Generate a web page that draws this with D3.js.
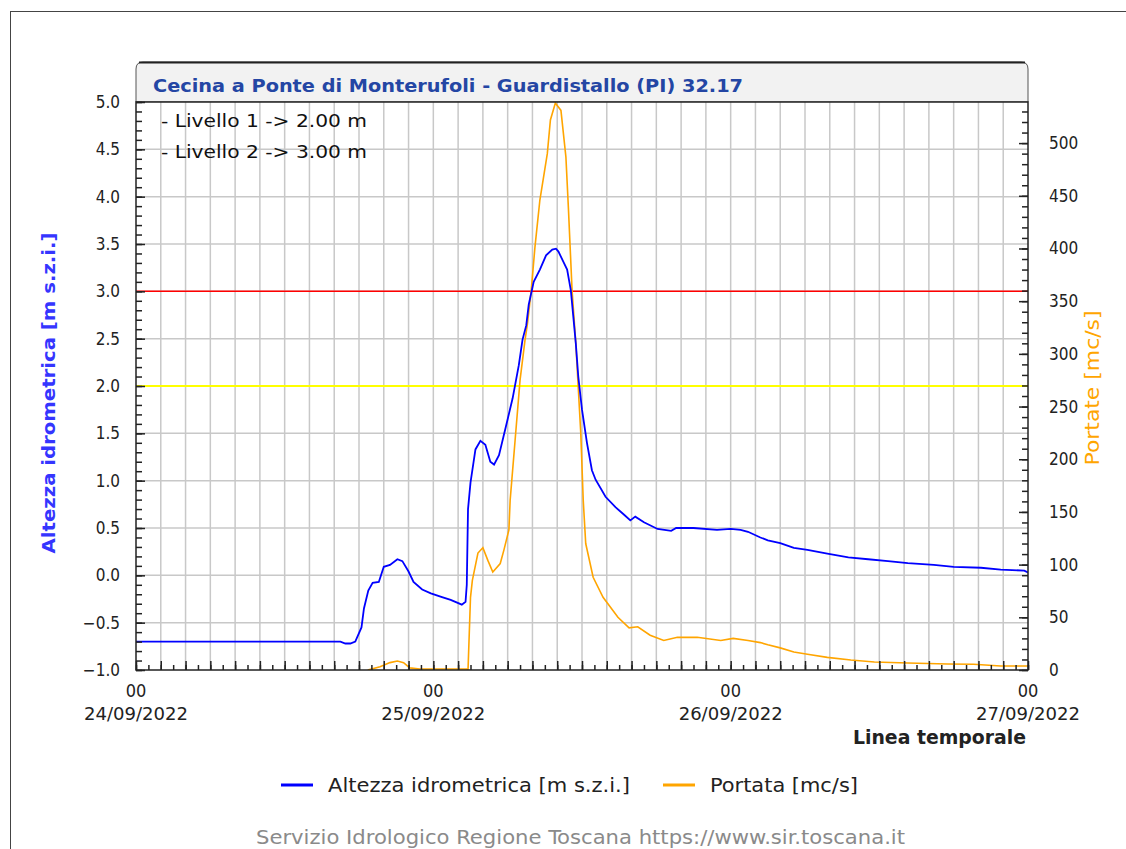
<!DOCTYPE html>
<html><head><meta charset="utf-8">
<script src="https://cdn.jsdelivr.net/npm/d3@7"></script>
<style>html,body{margin:0;padding:0;background:#fff;overflow:hidden}svg{display:block}</style>
</head><body>
<svg id="chart" width="1126" height="849"></svg>
<script>
// ---- DATA ----
const startDate = new Date(2022, 8, 24, 0, 0);
const xTickDays = ["24/09/2022", "25/09/2022", "26/09/2022", "27/09/2022"];
const leftTicks = [-1.0, -0.5, 0.0, 0.5, 1.0, 1.5, 2.0, 2.5, 3.0, 3.5, 4.0, 4.5, 5.0];
const rightTicks = [0, 50, 100, 150, 200, 250, 300, 350, 400, 450, 500];
const thresholds = [2.0, 3.0];
const thresholdLabels = ["- Livello 1 -> 2.00 m", "- Livello 2 -> 3.00 m"];

// hours since 24/09/2022 00:00
const levelHours = [0, 16.5, 16.9, 17.3, 17.7, 18.2, 18.4, 18.75, 19.1, 19.6, 20.0, 20.5, 21.1, 21.5, 22.0, 22.4, 23.1, 23.8, 24.7, 25.4, 26.3, 26.6, 26.7, 26.8, 27.0, 27.4, 27.8, 28.2, 28.6, 28.9, 29.3, 29.8, 30.4, 30.9, 31.2, 31.5, 31.7, 32.1, 32.6, 33.1, 33.6, 33.9, 34.1, 34.5, 34.8, 35.1, 35.3, 35.5, 35.7, 36.0, 36.4, 36.8, 37.1, 37.9, 38.7, 39.4, 39.9, 40.3, 41.0, 42.1, 43.2, 43.6, 45.0, 46.9, 48.0, 48.8, 49.4, 50.4, 51.0, 52.0, 53.1, 54.2, 55.8, 57.5, 59.1, 60.7, 62.3, 64.4, 66.0, 68.2, 69.8, 71.7, 72.0];
const levelValues = [-0.70, -0.70, -0.72, -0.72, -0.70, -0.55, -0.35, -0.16, -0.08, -0.07, 0.09, 0.11, 0.17, 0.15, 0.04, -0.07, -0.15, -0.19, -0.23, -0.26, -0.31, -0.28, -0.10, 0.70, 0.98, 1.33, 1.42, 1.38, 1.20, 1.17, 1.27, 1.54, 1.87, 2.22, 2.49, 2.64, 2.86, 3.10, 3.23, 3.38, 3.44, 3.45, 3.42, 3.31, 3.23, 3.01, 2.73, 2.45, 2.10, 1.75, 1.40, 1.11, 1.01, 0.83, 0.72, 0.64, 0.58, 0.62, 0.56, 0.49, 0.47, 0.50, 0.50, 0.48, 0.49, 0.48, 0.46, 0.40, 0.37, 0.34, 0.29, 0.27, 0.23, 0.19, 0.17, 0.15, 0.13, 0.11, 0.09, 0.08, 0.06, 0.05, 0.03];

const flowHours = [18.7, 19.7, 20.5, 21.1, 21.6, 22.1, 22.9, 25.5, 26.7, 26.8, 27.0, 27.15, 27.6, 28.0, 28.4, 28.8, 29.4, 29.7, 30.1, 30.2, 30.6, 31.0, 31.4, 31.6, 31.9, 32.2, 32.6, 33.2, 33.45, 33.85, 34.3, 34.7, 34.9, 35.2, 35.5, 35.9, 36.1, 36.3, 36.9, 37.7, 38.9, 39.8, 40.5, 41.5, 42.6, 43.7, 45.3, 47.2, 48.2, 49.4, 50.4, 51.0, 52.0, 53.1, 54.2, 55.8, 57.7, 59.6, 62.3, 65.5, 67.6, 69.8, 72.0];
const flowValues = [0, 3, 7, 8.5, 7, 2, 1, 1, 1, 0, 69, 85, 111, 116, 104, 93, 101, 114, 133, 161, 218, 275, 313, 329, 360, 401, 446, 490, 522, 538, 531, 487, 439, 360, 310, 225, 161, 120, 88, 69, 50, 40, 41, 33, 28, 31, 31, 28, 30, 28, 26, 24, 21, 17, 15, 12, 9.5, 7.6, 6.6, 5.7, 5.5, 3.8, 3.8];

const titleText = "Cecina a Ponte di Monterufoli - Guardistallo (PI) 32.17";
const leftLabel = "Altezza idrometrica [m s.z.i.]";
const rightLabel = "Portate [mc/s]";
const xLabel = "Linea temporale";
const legendLabels = ["Altezza idrometrica [m s.z.i.]", "Portata [mc/s]"];
const footer = "Servizio Idrologico Regione Toscana https://www.sir.toscana.it";

// ---- LAYOUT ----
const L = 136, R = 1028, T = 102, B = 670;
const FONT = "'DejaVu Sans', sans-serif";
const FONTC = "'DejaVu Sans Condensed', 'DejaVu Sans', sans-serif";
const svg = d3.select("#chart");

const hourToDate = h => new Date(startDate.getTime() + h * 3600000);
const x = d3.scaleTime().domain([startDate, hourToDate(72)]).range([L, R]);
const y = d3.scaleLinear().domain([-1, 5]).range([B, T]);
const y2 = d3.scaleLinear().domain([0, 539]).range([B, T]);

// outer frame
svg.append("rect").attr("x", 10.5).attr("y", 11.5).attr("width", 1200).attr("height", 900)
  .attr("fill", "none").attr("stroke", "#444").attr("stroke-width", 1);

// title box
const rr = 7;
svg.append("path")
  .attr("d", `M${L},${T} L${L},${62 + rr} Q${L},62 ${L + rr},62 L${R - rr},62 Q${R},62 ${R},${62 + rr} L${R},${T} Z`)
  .attr("fill", "#f2f2f2").attr("stroke", "#555").attr("stroke-width", 1);
svg.append("line").attr("x1", L + 3).attr("x2", R - 3).attr("y1", 62.5).attr("y2", 62.5)
  .attr("stroke", "#222").attr("stroke-width", 2);
svg.append("text").attr("x", 153).attr("y", 92).text(titleText)
  .attr("font-family", FONTC).attr("font-weight", "bold")
  .attr("font-size", 18).attr("fill", "#2446a4")
  .attr("textLength", 590).attr("lengthAdjust", "spacingAndGlyphs");

// plot background
svg.append("rect").attr("x", L).attr("y", T).attr("width", R - L).attr("height", B - T).attr("fill", "#fff");

// gridlines
const gridHours = d3.range(2, 72, 2);
svg.append("g").selectAll("line").data(gridHours).join("line")
  .attr("x1", d => x(hourToDate(d))).attr("x2", d => x(hourToDate(d)))
  .attr("y1", T).attr("y2", B).attr("stroke", "#c8c8c8").attr("stroke-width", 1.5);
svg.append("g").selectAll("line").data(leftTicks.slice(1, -1)).join("line")
  .attr("x1", L).attr("x2", R).attr("y1", d => y(d)).attr("y2", d => y(d))
  .attr("stroke", "#c8c8c8").attr("stroke-width", 1.5);

// threshold lines
svg.append("line").attr("x1", L).attr("x2", R).attr("y1", y(thresholds[0])).attr("y2", y(thresholds[0]))
  .attr("stroke", "#ffff00").attr("stroke-width", 2);
svg.append("line").attr("x1", L).attr("x2", R).attr("y1", y(thresholds[1])).attr("y2", y(thresholds[1]))
  .attr("stroke", "#ff0000").attr("stroke-width", 1.5);

// threshold text
thresholdLabels.forEach((t, i) => {
  svg.append("text").attr("x", 161).attr("y", 127 + i * 31).text(t)
    .attr("font-family", FONTC).attr("font-size", 18).attr("fill", "#111")
    .attr("textLength", 206).attr("lengthAdjust", "spacingAndGlyphs");
});

// clip
svg.append("defs").append("clipPath").attr("id", "clip").append("rect")
  .attr("x", L).attr("y", T - 2).attr("width", R - L).attr("height", B - T + 2);

const levelData = levelHours.map((h, i) => [hourToDate(h), levelValues[i]]);
const flowData = flowHours.map((h, i) => [hourToDate(h), flowValues[i]]);

svg.append("path").datum(flowData).attr("clip-path", "url(#clip)")
  .attr("d", d3.line().x(d => x(d[0])).y(d => y2(d[1])))
  .attr("fill", "none").attr("stroke", "#ffa500").attr("stroke-width", 1.6);
svg.append("path").datum(levelData).attr("clip-path", "url(#clip)")
  .attr("d", d3.line().x(d => x(d[0])).y(d => y(d[1])))
  .attr("fill", "none").attr("stroke", "#0000ff").attr("stroke-width", 1.8);

// frame of plot
svg.append("rect").attr("x", L).attr("y", T).attr("width", R - L).attr("height", B - T)
  .attr("fill", "none").attr("stroke", "#222").attr("stroke-width", 1.5);

// ticks (inside)
const minorLeft = d3.range(-1, 5.001, 0.1).map(v => +v.toFixed(1));
svg.append("g").attr("transform", `translate(${L},0)`)
  .call(d3.axisLeft(y).tickValues(minorLeft).tickSize(-6).tickFormat(""))
  .call(g => g.select(".domain").remove())
  .call(g => g.selectAll("line").attr("stroke", "#222").attr("stroke-width", 1.5));
svg.append("g").attr("transform", `translate(${L},0)`)
  .call(d3.axisLeft(y).tickValues(leftTicks).tickSize(-9).tickPadding(16).tickFormat(d3.format(".1f")))
  .call(g => g.select(".domain").remove())
  .call(g => g.selectAll("line").attr("stroke", "#222").attr("stroke-width", 1.5))
  .call(g => g.selectAll("text").attr("font-family", FONTC).attr("font-size", 17).attr("fill", "#222"));

const minorRight = d3.range(0, 540, 10);
svg.append("g").attr("transform", `translate(${R},0)`)
  .call(d3.axisRight(y2).tickValues(minorRight).tickSize(-6).tickFormat(""))
  .call(g => g.select(".domain").remove())
  .call(g => g.selectAll("line").attr("stroke", "#222").attr("stroke-width", 1.5));
svg.append("g").attr("transform", `translate(${R},0)`)
  .call(d3.axisRight(y2).tickValues(rightTicks).tickSize(-9).tickPadding(21).tickFormat(d3.format("d")))
  .call(g => g.select(".domain").remove())
  .call(g => g.selectAll("line").attr("stroke", "#222").attr("stroke-width", 1.5))
  .call(g => g.selectAll("text").attr("font-family", FONTC).attr("font-size", 17).attr("fill", "#222"));

const hourTicks = d3.range(0, 73, 1).map(hourToDate);
const majorHourTicks = d3.range(0, 73, 2).map(hourToDate);
svg.append("g").attr("transform", `translate(0,${B})`)
  .call(d3.axisBottom(x).tickValues(hourTicks).tickSize(-5).tickFormat(""))
  .call(g => g.select(".domain").remove())
  .call(g => g.selectAll("line").attr("stroke", "#222").attr("stroke-width", 1.5));
svg.append("g").attr("transform", `translate(0,${B})`)
  .call(d3.axisBottom(x).tickValues(majorHourTicks).tickSize(-9).tickFormat(""))
  .call(g => g.select(".domain").remove())
  .call(g => g.selectAll("line").attr("stroke", "#222").attr("stroke-width", 1.5));

// x day labels
xTickDays.forEach((d, i) => {
  const xp = x(hourToDate(i * 24));
  svg.append("text").attr("x", xp).attr("y", 697).attr("text-anchor", "middle").text("00")
    .attr("font-family", FONTC).attr("font-size", 18).attr("fill", "#222");
  svg.append("text").attr("x", xp).attr("y", 720).attr("text-anchor", "middle").text(d)
    .attr("font-family", FONTC).attr("font-size", 18).attr("fill", "#222")
    .attr("textLength", 104).attr("lengthAdjust", "spacingAndGlyphs");
});
svg.append("text").attr("x", 1026).attr("y", 744).attr("text-anchor", "end").text(xLabel)
  .attr("font-family", FONT).attr("font-weight", "bold").attr("font-size", 19).attr("fill", "#222")
  .attr("textLength", 173).attr("lengthAdjust", "spacingAndGlyphs");

// axis titles
svg.append("text").attr("transform", `translate(55,393) rotate(-90)`).attr("text-anchor", "middle")
  .text(leftLabel).attr("font-family", FONTC).attr("font-weight", "bold").attr("font-size", 18)
  .attr("fill", "#3535ff").attr("textLength", 321).attr("lengthAdjust", "spacingAndGlyphs");
svg.append("text").attr("transform", `translate(1099,388) rotate(-90)`).attr("text-anchor", "middle")
  .text(rightLabel).attr("font-family", FONT).attr("font-size", 19)
  .attr("fill", "#ffa500").attr("textLength", 155).attr("lengthAdjust", "spacingAndGlyphs");

// legend
const legendColors = ["#0000ff", "#ffa500"];
const legendX = [281, 663];
const legendW = [302, 148];
legendLabels.forEach((t, i) => {
  svg.append("line").attr("x1", legendX[i]).attr("x2", legendX[i] + 32).attr("y1", 785).attr("y2", 785)
    .attr("stroke", legendColors[i]).attr("stroke-width", 3);
  svg.append("text").attr("x", legendX[i] + 47).attr("y", 792).text(t)
    .attr("font-family", FONTC).attr("font-size", 19).attr("fill", "#222")
    .attr("textLength", legendW[i]).attr("lengthAdjust", "spacingAndGlyphs");
});

// footer
svg.append("text").attr("x", 256).attr("y", 844).text(footer)
  .attr("font-family", FONTC).attr("font-size", 19).attr("fill", "#8a8a8a")
  .attr("textLength", 649).attr("lengthAdjust", "spacingAndGlyphs");
</script>
</body></html>
